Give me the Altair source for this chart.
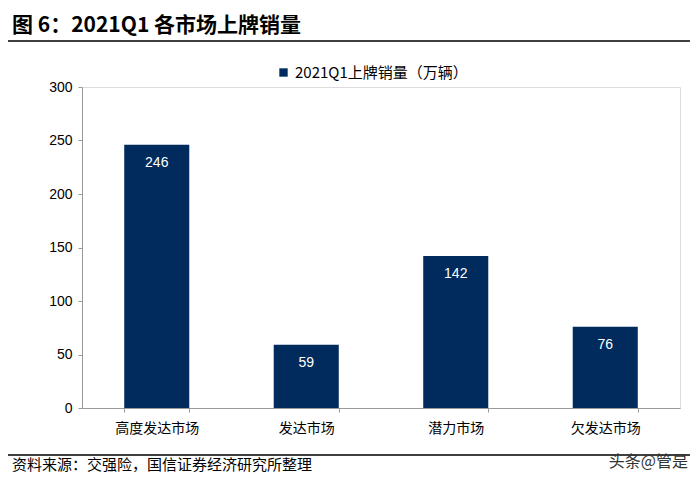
import altair as alt
import pandas as pd

categories = ["高度发达市场", "发达市场", "潜力市场", "欠发达市场"]
values = [246, 59, 142, 76]
series_name = "2021Q1上牌销量（万辆）"
y_ticks = [0, 50, 100, 150, 200, 250, 300]
title_text = "图 6：2021Q1 各市场上牌销量"
source_text = "资料来源：交强险，国信证券经济研究所整理"
watermark_text = "头条@管是"

df = pd.DataFrame({"cat": categories, "val": values, "series": [series_name] * len(values)})

NAVY = "#002B5C"
CJK = "Noto Sans CJK SC"
LAT = "Liberation Sans"

base = alt.Chart(df)

bars = base.mark_bar(color=NAVY).encode(
    x=alt.X("cat:N", sort=categories, title=None,
            scale=alt.Scale(paddingInner=0.565, paddingOuter=0.2825),
            axis=alt.Axis(labelAngle=0, labelFont=CJK, labelFontSize=14, labelColor="#000",
                          labelPadding=9, tickBand="extent", tickSize=4, tickColor="#999",
                          domainColor="#999")),
    y=alt.Y("val:Q", title=None,
            scale=alt.Scale(domain=[0, 300], nice=False),
            axis=alt.Axis(values=y_ticks, grid=False, labelFont=LAT, labelFontSize=14,
                          labelColor="#000", tickSize=4, tickColor="#999", domainColor="#999",
                          labelPadding=6)),
    color=alt.Color("series:N", scale=alt.Scale(range=[NAVY]),
                    legend=alt.Legend(orient="none", legendX=194, legendY=-22, title=None,
                                      symbolType="square", symbolSize=70, labelFont=CJK,
                                      labelFontSize=15, labelColor="#000", symbolStrokeWidth=0,
                                      labelLimit=400)),
)

labels = base.mark_text(color="white", font=LAT, fontSize=14, dy=18, baseline="middle").encode(
    x=alt.X("cat:N", sort=categories),
    y="val:Q",
    text="val:Q",
)

title = alt.Chart(pd.DataFrame({"t": [title_text]})).mark_text(
    font=CJK, fontSize=21, fontWeight="bold", align="left", baseline="top", color="#000"
).encode(x=alt.value(-70), y=alt.value(-72), text="t:N")

top_line = alt.Chart(pd.DataFrame({"a": [0]})).mark_rule(color="#000", strokeWidth=1.5).encode(
    x=alt.value(-74), x2=alt.value(608), y=alt.value(-46))

bottom_line = alt.Chart(pd.DataFrame({"a": [0]})).mark_rule(color="#000", strokeWidth=1.5).encode(
    x=alt.value(-74), x2=alt.value(608), y=alt.value(368))

source = alt.Chart(pd.DataFrame({"t": [source_text]})).mark_text(
    font=CJK, fontSize=15, align="left", baseline="middle", color="#000"
).encode(x=alt.value(-70), y=alt.value(378), text="t:N")

watermark = alt.Chart(pd.DataFrame({"t": [watermark_text]})).mark_text(
    font=CJK, fontSize=16, align="right", baseline="middle", color="#333"
).encode(x=alt.value(606), y=alt.value(375), text="t:N")

chart = alt.layer(bars, labels, title, top_line, bottom_line, source, watermark).properties(
    width=598, height=321,
    padding={"left": 74, "top": 79, "right": 10, "bottom": 66},
    autosize=alt.AutoSizeParams(type="none"),
).configure_view(stroke=None).configure(background="white")

chart.save("out.html", embed_options={"renderer": "svg", "actions": False})
